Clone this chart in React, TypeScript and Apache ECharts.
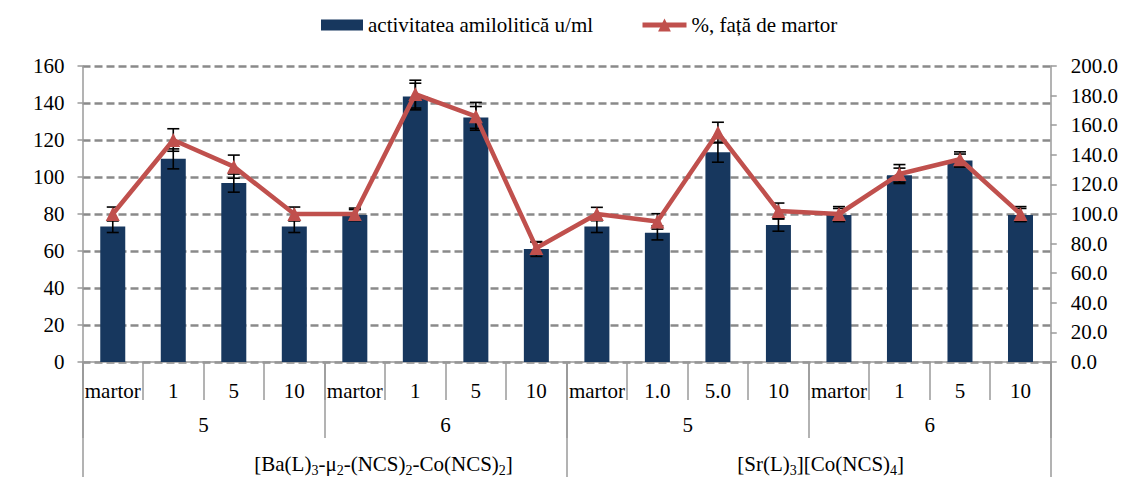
import React, { useEffect, useRef } from "react";
import * as echarts from "echarts";

const categories = ["martor", "1", "5", "10", "martor", "1", "5", "10", "martor", "1.0", "5.0", "10", "martor", "1", "5", "10"];
const groupLabels = ["5", "6", "5", "6"];
const compoundLabels = ["[Ba(L)_3-μ_2-(NCS)_2-Co(NCS)_2]", "[Sr(L)_3][Co(NCS)_4]"];

const activity = [73.3, 109.8, 96.7, 73.3, 79.4, 143.5, 132.2, 61.1, 73.3, 69.8, 113.4, 74.1, 79.5, 101, 108.9, 79.5];
const activityErr = [3.3, 5.4, 4.9, 3.3, 3, 7.2, 5.9, 4, 3.3, 3.8, 5.4, 3.4, 3.5, 3.8, 3.5, 3.5];
const percent = [100, 150, 132, 100, 100, 181, 166, 77, 100, 95, 155, 102, 100, 127, 137, 100];
const percentErr = [4.7, 7.6, 7.8, 4.7, 4, 9.4, 9.4, 4, 4.5, 5.2, 7, 5.4, 5, 6.4, 5, 5];

const barName = "activitatea amilolitică u/ml";
const lineName = "%, față de martor";

const FONT = "'Liberation Serif', 'Times New Roman', serif";
const FS = 21;
const AXIS_COLOR = "#9a9a9a";

function errorRender(params: any, api: any) {
  const x = api.value(0);
  const v = api.value(1);
  const e = api.value(2);
  const top = api.coord([x, v + e]);
  const bot = api.coord([x, v - e]);
  const hw = 6;
  const style = { stroke: "#000", lineWidth: 1.6 };
  return {
    type: "group",
    children: [
      { type: "line", shape: { x1: top[0], y1: top[1], x2: bot[0], y2: bot[1] }, style },
      { type: "line", shape: { x1: top[0] - hw, y1: top[1], x2: top[0] + hw, y2: top[1] }, style },
      { type: "line", shape: { x1: bot[0] - hw, y1: bot[1], x2: bot[0] + hw, y2: bot[1] }, style },
    ],
  };
}

export default function App() {
  const ref = useRef<HTMLDivElement>(null);
  useEffect(() => {
    if (!ref.current) return;
    const chart = echarts.init(ref.current, undefined, { renderer: "svg" });
    const labelStyle = { fontFamily: FONT, fontSize: FS, color: "#000" };
    chart.setOption({
      animation: false,
      textStyle: { fontFamily: FONT },
      legend: [
        {
          data: [{ name: barName, icon: "rect" }],
          left: 321,
          top: 14,
          padding: 0,
          itemWidth: 42,
          itemHeight: 11,
          textStyle: { ...labelStyle, lineHeight: 22 },
        },
        {
          data: [lineName],
          left: 640,
          top: 14,
          padding: 0,
          itemWidth: 44,
          itemHeight: 16,
          lineStyle: { width: 5 },
          textStyle: { ...labelStyle, lineHeight: 22 },
        },
      ],
      grid: { left: 82.5, right: 69, top: 66, bottom: 113, containLabel: false },
      xAxis: [
        {
          type: "category",
          data: categories,
          position: "bottom",
          boundaryGap: true,
          axisLine: { show: true, lineStyle: { color: AXIS_COLOR, width: 1.5 } },
          axisTick: { show: true, interval: 0, length: 38, lineStyle: { color: AXIS_COLOR, width: 1.5 } },
          axisLabel: { interval: 0, margin: 18, lineHeight: FS, ...labelStyle },
        },
        {
          type: "category",
          data: groupLabels,
          position: "bottom",
          offset: 0,
          boundaryGap: true,
          axisLine: { show: false },
          axisTick: { show: true, interval: 0, length: 76, lineStyle: { color: AXIS_COLOR, width: 1.5 } },
          axisLabel: { interval: 0, margin: 52, lineHeight: FS, ...labelStyle },
        },
        {
          type: "category",
          data: compoundLabels,
          position: "bottom",
          offset: 0,
          boundaryGap: true,
          axisLine: { show: false },
          axisTick: { show: true, interval: 0, length: 115, lineStyle: { color: AXIS_COLOR, width: 1.5 } },
          axisLabel: {
            interval: 0,
            margin: 89,
            ...labelStyle,
            lineHeight: 26,
            formatter: (v: string, i: number) =>
              (i === 0 ? "{g0| }" : "{g1| }") + v.replace(/_(\d)/g, "{s|$1}"),
            rich: {
              s: { fontFamily: FONT, fontSize: 14, lineHeight: 16, verticalAlign: "bottom", color: "#000" },
              g0: { width: 118, fontSize: FS, fontFamily: FONT },
              g1: { width: 24, fontSize: FS, fontFamily: FONT },
            },
          },
        },
      ],
      yAxis: [
        {
          type: "value",
          min: 0,
          max: 160,
          interval: 20,
          position: "left",
          axisLine: { show: true, lineStyle: { color: AXIS_COLOR, width: 1.5 } },
          axisTick: { show: true, length: 5, lineStyle: { color: AXIS_COLOR, width: 1.5 } },
          axisLabel: { margin: 18, ...labelStyle },
          splitLine: { show: true, lineStyle: { color: "#8a8a8a", width: 2.5, type: [8, 4] } },
        },
        {
          type: "value",
          min: 0,
          max: 200,
          interval: 20,
          position: "right",
          axisLine: { show: true, lineStyle: { color: AXIS_COLOR, width: 1.5 } },
          axisTick: { show: true, length: 6, lineStyle: { color: AXIS_COLOR, width: 1.5 } },
          axisLabel: { margin: 20, ...labelStyle, formatter: (v: number) => v.toFixed(1) },
          splitLine: { show: false },
        },
      ],
      series: [
        {
          name: barName,
          type: "bar",
          xAxisIndex: 0,
          yAxisIndex: 0,
          data: activity,
          barWidth: 25,
          itemStyle: { color: "#17375e" },
          z: 2,
        },
        {
          type: "custom",
          xAxisIndex: 0,
          yAxisIndex: 0,
          renderItem: errorRender,
          data: activity.map((v, i) => [i, v, activityErr[i]]),
          encode: { x: 0, y: 1 },
          z: 3,
          silent: true,
        },
        {
          type: "custom",
          xAxisIndex: 0,
          yAxisIndex: 1,
          renderItem: errorRender,
          data: percent.map((v, i) => [i, v, percentErr[i]]),
          encode: { x: 0, y: 1 },
          z: 3,
          silent: true,
        },
        {
          name: lineName,
          type: "line",
          xAxisIndex: 0,
          yAxisIndex: 1,
          data: percent,
          symbol: "triangle",
          symbolSize: 14,
          lineStyle: { color: "#c0504d", width: 4.5 },
          itemStyle: { color: "#c0504d" },
          z: 4,
        },
      ],
    });
    return () => chart.dispose();
  }, []);
  return <div ref={ref} style={{ position: "absolute", left: 0, top: 0, width: 1121, height: 477 }} />;
}
